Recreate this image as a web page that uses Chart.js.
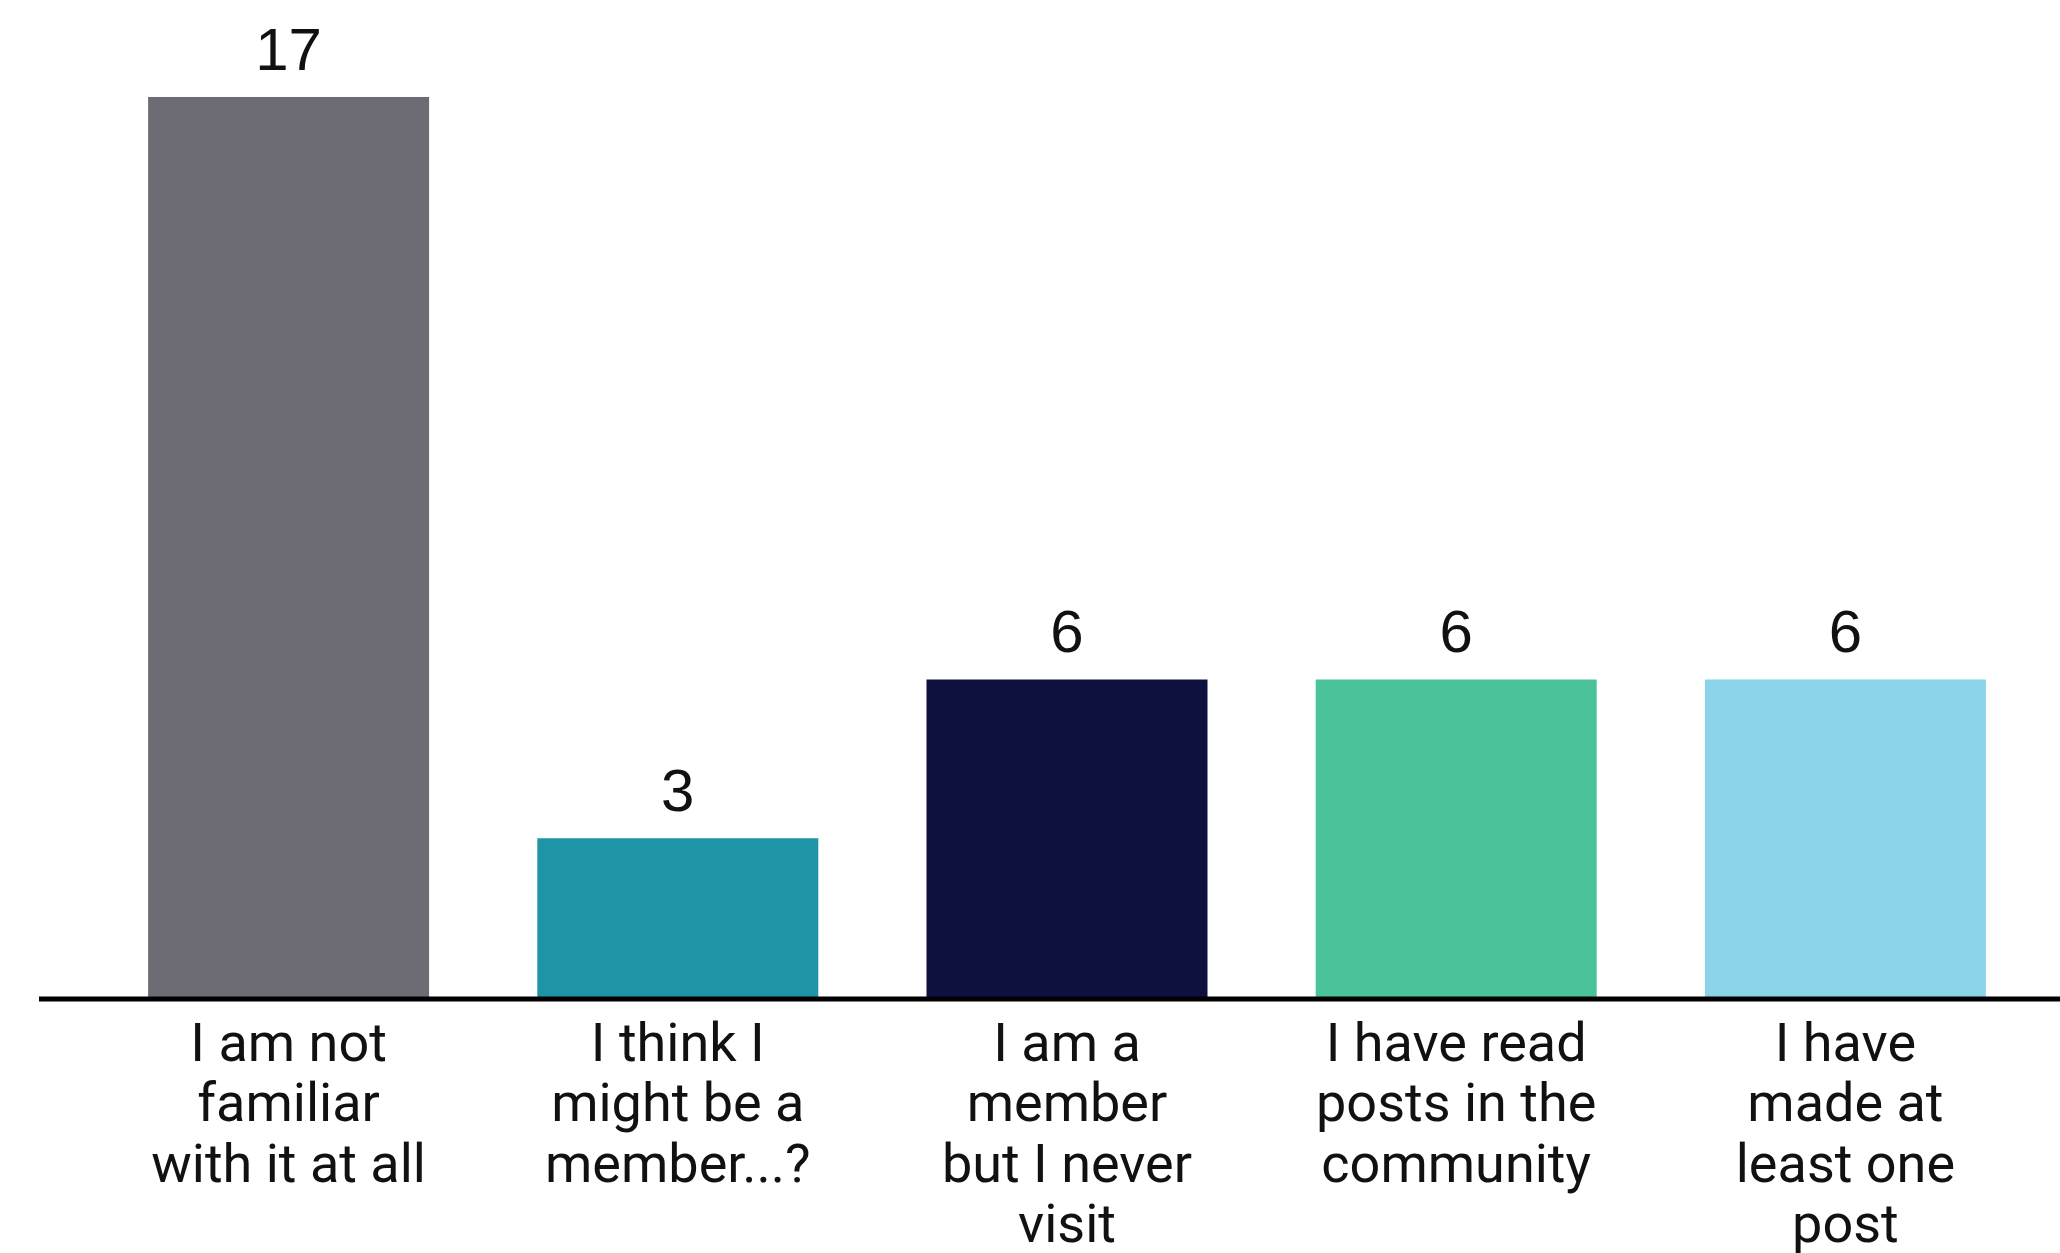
<!DOCTYPE html>
<html>
<head>
<meta charset="utf-8">
<script src="https://cdn.jsdelivr.net/npm/chart.js@4/dist/chart.umd.min.js"></script>
<style>
  html, body { margin: 0; padding: 0; background: #fff; }
  #chart { display: block; }
</style>
</head>
<body>
<canvas id="chart" width="2060" height="1253"></canvas>
<script>
// Survey answers (category labels split into lines)
const categories = [
  ['I am not', 'familiar', 'with it at all'],
  ['I think I', 'might be a', 'member...?'],
  ['I am a', 'member', 'but I never', 'visit'],
  ['I have read', 'posts in the', 'community'],
  ['I have', 'made at', 'least one', 'post']
];
const counts = [17, 3, 6, 6, 6];
const barColors = ['#6d6c75', '#1e95a6', '#0e1040', '#4ac29a', '#8bd3e8'];

// Value labels above each bar
const valueLabels = {
  id: 'valueLabels',
  afterDatasetsDraw(chart) {
    const ctx = chart.ctx;
    const meta = chart.getDatasetMeta(0);
    ctx.save();
    ctx.font = '60px "Liberation Sans", Arial, sans-serif';
    ctx.fillStyle = '#111';
    ctx.textAlign = 'center';
    ctx.textBaseline = 'alphabetic';
    meta.data.forEach((bar, i) => {
      ctx.fillText(String(counts[i]), bar.x, bar.y - 27);
    });
    ctx.restore();
  }
};

// Baseline drawn wider than the plot area, like the original
const baseLine = {
  id: 'baseLine',
  afterDatasetsDraw(chart) {
    const ctx = chart.ctx;
    const y = chart.scales.y.getPixelForValue(0) + 2;
    ctx.save();
    ctx.strokeStyle = '#000';
    ctx.lineWidth = 5;
    ctx.beginPath();
    ctx.moveTo(39, y);
    ctx.lineTo(chart.width, y);
    ctx.stroke();
    ctx.restore();
  }
};

new Chart(document.getElementById('chart').getContext('2d'), {
  type: 'bar',
  data: {
    labels: categories,
    datasets: [{
      data: counts,
      backgroundColor: barColors,
      borderWidth: 0,
      barPercentage: 0.722,
      categoryPercentage: 1.0
    }]
  },
  options: {
    responsive: false,
    devicePixelRatio: 1,
    animation: false,
    layout: {
      padding: { top: 44, left: 94, right: 20, bottom: -18 }
    },
    plugins: {
      legend: { display: false },
      tooltip: { enabled: false }
    },
    scales: {
      x: {
        grid: { display: false },
        border: { display: false },
        ticks: {
          color: '#111',
          padding: 12,
          maxRotation: 0,
          autoSkip: false,
          font: { family: 'Roboto', size: 54, weight: 400, lineHeight: 1.12 }
        }
      },
      y: {
        display: false,
        min: 0,
        max: 18
      }
    }
  },
  plugins: [valueLabels, baseLine]
});
</script>
</body>
</html>
